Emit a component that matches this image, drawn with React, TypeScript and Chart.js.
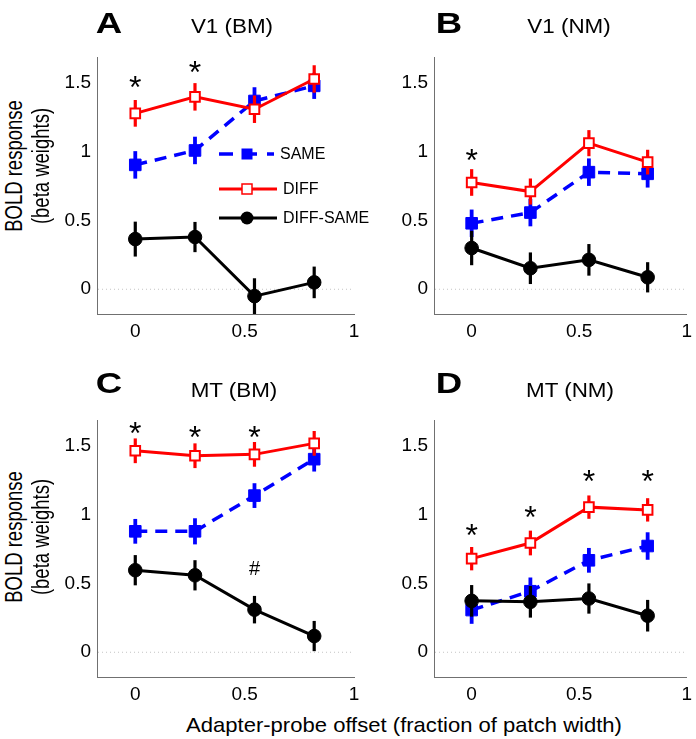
import React, { useEffect, useRef } from "react";
import { Chart, registerables } from "chart.js";

Chart.register(...registerables);

const FONT = "Arial, 'Liberation Sans', Helvetica, sans-serif";

// ---------- data ----------
const offsets = [0, 0.273, 0.545, 0.818];
const xTickValues = [0, 0.5, 1];
const xTickLabels = ["0", "0.5", "1"];
const yTickValues = [0, 0.5, 1, 1.5];
const yTickLabels = ["0", "0.5", "1", "1.5"];
const seriesNames = ["SAME", "DIFF", "DIFF-SAME"];

// A: V1 (BM)
const v1bmSame = [0.905, 1.01, 1.37, 1.48];
const v1bmSameErr = [0.1, 0.1, 0.1, 0.095];
const v1bmDiff = [1.28, 1.4, 1.31, 1.53];
const v1bmDiffErr = [0.097, 0.1, 0.1, 0.1];
const v1bmDS = [0.365, 0.38, -0.05, 0.05];
const v1bmDSErr = [0.127, 0.11, 0.13, 0.115];
const v1bmStarX = [0, 0.273];
const v1bmStarY = [1.506, 1.62];

// B: V1 (NM)
const v1nmSame = [0.48, 0.558, 0.852, 0.84];
const v1nmSameErr = [0.1, 0.1, 0.1, 0.1];
const v1nmDiff = [0.777, 0.711, 1.063, 0.925];
const v1nmDiffErr = [0.097, 0.095, 0.095, 0.09];
const v1nmDS = [0.3, 0.153, 0.214, 0.087];
const v1nmDSErr = [0.125, 0.115, 0.115, 0.11];
const v1nmStarX = [0];
const v1nmStarY = [0.978];

// C: MT (BM)
const mtbmSame = [0.88, 0.88, 1.14, 1.405];
const mtbmSameErr = [0.09, 0.095, 0.09, 0.09];
const mtbmDiff = [1.466, 1.43, 1.44, 1.52];
const mtbmDiffErr = [0.09, 0.09, 0.09, 0.09];
const mtbmDS = [0.597, 0.56, 0.31, 0.118];
const mtbmDSErr = [0.11, 0.11, 0.1, 0.11];
const mtbmStarX = [0, 0.273, 0.545];
const mtbmStarY = [1.635, 1.6, 1.6];
const mtbmHashX = [0.545];
const mtbmHashY = [0.616];

// D: MT (NM)
const mtnmSame = [0.307, 0.444, 0.669, 0.773];
const mtnmSameErr = [0.1, 0.1, 0.09, 0.1];
const mtnmDiff = [0.681, 0.795, 1.056, 1.036];
const mtnmDiffErr = [0.085, 0.09, 0.085, 0.085];
const mtnmDS = [0.374, 0.367, 0.391, 0.266];
const mtnmDSErr = [0.115, 0.115, 0.11, 0.115];
const mtnmStarX = [0, 0.273, 0.545, 0.818];
const mtnmStarY = [0.89, 1.02, 1.285, 1.285];

const X_MIN = -0.175;
const X_MAX = 1;
const Y_MIN = -0.18;
const Y_MAX = 1.69;

// ---------- layout ----------
const colLeft = [40, 380];
const colW = [336, 316];
const yAxisW = [57, 54];
const padRight = [22, 5];
const rowTop = [35, 398];
const CANVAS_H = 309;
const PAD_TOP = 22;
const X_AXIS_H = 30;

const RED = "#ff0000";
const BLUE = "#0000ff";
const BLACK = "#000000";
const AXIS = "#707070";

type PanelCfg = {
  letter: string;
  title: string;
  same: number[];
  sameErr: number[];
  diff: number[];
  diffErr: number[];
  ds: number[];
  dsErr: number[];
  starX: number[];
  starY: number[];
  hashX: number[];
  hashY: number[];
  legend: boolean;
  row: number;
  col: number;
  titleCx: number;
};

const panels: PanelCfg[] = [
  { letter: "A", title: "V1 (BM)", same: v1bmSame, sameErr: v1bmSameErr, diff: v1bmDiff, diffErr: v1bmDiffErr, ds: v1bmDS, dsErr: v1bmDSErr, starX: v1bmStarX, starY: v1bmStarY, hashX: [], hashY: [], legend: true, row: 0, col: 0, titleCx: 231.5 },
  { letter: "B", title: "V1 (NM)", same: v1nmSame, sameErr: v1nmSameErr, diff: v1nmDiff, diffErr: v1nmDiffErr, ds: v1nmDS, dsErr: v1nmDSErr, starX: v1nmStarX, starY: v1nmStarY, hashX: [], hashY: [], legend: false, row: 0, col: 1, titleCx: 568.5 },
  { letter: "C", title: "MT (BM)", same: mtbmSame, sameErr: mtbmSameErr, diff: mtbmDiff, diffErr: mtbmDiffErr, ds: mtbmDS, dsErr: mtbmDSErr, starX: mtbmStarX, starY: mtbmStarY, hashX: mtbmHashX, hashY: mtbmHashY, legend: false, row: 1, col: 0, titleCx: 233.5 },
  { letter: "D", title: "MT (NM)", same: mtnmSame, sameErr: mtnmSameErr, diff: mtnmDiff, diffErr: mtnmDiffErr, ds: mtnmDS, dsErr: mtnmDSErr, starX: mtnmStarX, starY: mtnmStarY, hashX: [], hashY: [], legend: false, row: 1, col: 1, titleCx: 570 },
];

function drawCenteredText(ctx: CanvasRenderingContext2D, text: string, px: number, py: number, size: number) {
  ctx.font = `${size}px ${FONT}`;
  ctx.textAlign = "center";
  ctx.textBaseline = "alphabetic";
  const m = ctx.measureText(text);
  const off = (m.actualBoundingBoxAscent - m.actualBoundingBoxDescent) / 2;
  ctx.fillStyle = "#000";
  ctx.fillText(text, px, py + off);
}

function Panel({ cfg }: { cfg: PanelCfg }) {
  const ref = useRef<HTMLCanvasElement>(null);
  const w = colW[cfg.col];
  const left = colLeft[cfg.col];
  const top = rowTop[cfg.row];

  useEffect(() => {
    const canvas = ref.current;
    if (!canvas) return;
    const errs = [cfg.dsErr, cfg.diffErr, cfg.sameErr];
    const errColors = [BLACK, RED, BLUE];
    const errWidths = [3.2, 3.2, 3.8];

    const figPlugin = {
      id: "fig",
      beforeDatasetsDraw(chart: any) {
        const { ctx, chartArea, scales } = chart;
        const y0 = scales.y.getPixelForValue(0);
        ctx.save();
        ctx.strokeStyle = "#c4c4c4";
        ctx.lineWidth = 1;
        ctx.setLineDash([1, 3]);
        ctx.beginPath();
        ctx.moveTo(chartArea.left + 1, y0);
        ctx.lineTo(chartArea.right, y0);
        ctx.stroke();
        ctx.restore();
      },
      beforeDatasetDraw(chart: any, args: any) {
        const { ctx, scales } = chart;
        const e = errs[args.index];
        const ds = chart.data.datasets[args.index];
        ctx.save();
        ctx.strokeStyle = errColors[args.index];
        ctx.lineWidth = errWidths[args.index];
        ctx.lineCap = "butt";
        ds.data.forEach((p: any, i: number) => {
          const px = scales.x.getPixelForValue(p.x);
          ctx.beginPath();
          ctx.moveTo(px, scales.y.getPixelForValue(p.y - e[i]));
          ctx.lineTo(px, scales.y.getPixelForValue(p.y + e[i]));
          ctx.stroke();
        });
        ctx.restore();
      },
      afterDatasetsDraw(chart: any) {
        const { ctx, scales, chartArea } = chart;
        ctx.save();
        cfg.starX.forEach((x, i) => {
          drawCenteredText(ctx, "*", scales.x.getPixelForValue(x), scales.y.getPixelForValue(cfg.starY[i]), 32);
        });
        cfg.hashX.forEach((x, i) => {
          drawCenteredText(ctx, "#", scales.x.getPixelForValue(x), scales.y.getPixelForValue(cfg.hashY[i]), 20);
        });
        if (cfg.legend) {
          const bx = chartArea.left;
          const by = chartArea.top;
          const rows = [
            { name: seriesNames[0], y: 97, color: BLUE, dash: [14, 10], lw: 3.5, marker: "sq", x1: 122, x2: 177, mx: 150, tx: 183 },
            { name: seriesNames[1], y: 132, color: RED, dash: [], lw: 3, marker: "open", x1: 122, x2: 180, mx: 150, tx: 186 },
            { name: seriesNames[2], y: 161, color: BLACK, dash: [], lw: 3, marker: "circle", x1: 122, x2: 180, mx: 150, tx: 186 },
          ];
          rows.forEach((r) => {
            const y = by + r.y;
            ctx.save();
            ctx.strokeStyle = r.color;
            ctx.lineWidth = r.lw;
            ctx.setLineDash(r.dash);
            ctx.beginPath();
            ctx.moveTo(bx + r.x1, y);
            ctx.lineTo(bx + r.x2, y);
            ctx.stroke();
            ctx.setLineDash([]);
            const mx = bx + r.mx;
            if (r.marker === "sq") {
              ctx.fillStyle = BLUE;
              ctx.fillRect(mx - 5.5, y - 5.5, 11, 11);
            } else if (r.marker === "open") {
              ctx.fillStyle = "#fff";
              ctx.fillRect(mx - 5, y - 5, 10, 10);
              ctx.lineWidth = 1.5;
              ctx.strokeRect(mx - 5, y - 5, 10, 10);
            } else {
              ctx.fillStyle = BLACK;
              ctx.beginPath();
              ctx.arc(mx, y, 6.5, 0, Math.PI * 2);
              ctx.fill();
            }
            ctx.restore();
            ctx.save();
            ctx.fillStyle = "#000";
            ctx.font = `16px ${FONT}`;
            ctx.textAlign = "left";
            ctx.textBaseline = "middle";
            ctx.fillText(r.name, bx + r.tx, y + 1);
            ctx.restore();
          });
        }
        ctx.restore();
      },
    };

    const mk = (vals: number[]) => offsets.map((x, i) => ({ x, y: vals[i] }));
    const tickFont = { family: FONT, size: 19 };

    const chart = new Chart(canvas, {
      type: "line",
      data: {
        datasets: [
          {
            label: seriesNames[2],
            data: mk(cfg.ds),
            borderColor: BLACK,
            backgroundColor: BLACK,
            borderWidth: 3,
            pointStyle: "circle",
            pointRadius: 6.8,
            pointBorderWidth: 1,
            pointBackgroundColor: BLACK,
            pointBorderColor: BLACK,
            tension: 0,
          },
          {
            label: seriesNames[1],
            data: mk(cfg.diff),
            borderColor: RED,
            backgroundColor: RED,
            borderWidth: 3,
            pointStyle: "rect",
            pointRadius: 6.8,
            pointBorderWidth: 2,
            pointBackgroundColor: "#ffffff",
            pointBorderColor: RED,
            tension: 0,
          },
          {
            label: seriesNames[0],
            data: mk(cfg.same),
            borderColor: BLUE,
            backgroundColor: BLUE,
            borderWidth: 3.5,
            borderDash: [12, 8],
            pointStyle: "rect",
            pointRadius: 8.2,
            pointBorderWidth: 1,
            pointBackgroundColor: BLUE,
            pointBorderColor: BLUE,
            tension: 0,
          },
        ],
      },
      options: {
        animation: false,
        responsive: false,
        devicePixelRatio: 1,
        events: [],
        layout: { padding: { top: PAD_TOP, right: padRight[cfg.col], left: 0, bottom: 0 } },
        plugins: { legend: { display: false }, tooltip: { enabled: false } },
        scales: {
          x: {
            type: "linear",
            min: X_MIN,
            max: X_MAX,
            afterBuildTicks: (axis: any) => {
              axis.ticks = xTickValues.map((v) => ({ value: v }));
            },
            afterFit: (s: any) => {
              s.height = X_AXIS_H;
              s.paddingLeft = 0;
              s.paddingRight = 0;
            },
            ticks: {
              callback: (v: any) => xTickLabels[xTickValues.indexOf(Number(v))],
              font: tickFont,
              color: "#000",
              padding: 6,
              maxRotation: 0,
              autoSkip: false,
            },
            grid: { display: false, drawTicks: false },
            border: { display: true, color: AXIS, width: 1 },
          },
          y: {
            type: "linear",
            min: Y_MIN,
            max: Y_MAX,
            afterBuildTicks: (axis: any) => {
              axis.ticks = yTickValues.map((v) => ({ value: v }));
            },
            afterFit: (s: any) => {
              s.width = yAxisW[cfg.col];
              s.paddingTop = 0;
              s.paddingBottom = 0;
            },
            ticks: {
              callback: (v: any) => yTickLabels[yTickValues.indexOf(Number(v))],
              font: tickFont,
              color: "#000",
              padding: 6,
              autoSkip: false,
            },
            grid: { display: false, drawTicks: false },
            border: { display: true, color: AXIS, width: 1 },
          },
        },
      } as any,
      plugins: [figPlugin as any],
    });
    return () => chart.destroy();
  }, []);

  return (
    <canvas
      ref={ref}
      width={w}
      height={CANVAS_H}
      style={{ position: "absolute", left, top, width: w, height: CANVAS_H }}
    />
  );
}

function HText({ text, cx, baseline, size, bold, sx }: { text: string; cx: number; baseline: number; size: number; bold?: boolean; sx: number }) {
  return (
    <div
      style={{
        position: "absolute",
        left: cx,
        top: baseline - 0.8465 * size,
        fontSize: size,
        lineHeight: `${size}px`,
        fontWeight: bold ? "bold" : "normal",
        fontFamily: FONT,
        whiteSpace: "nowrap",
        color: "#000",
        transform: `translateX(-50%) scaleX(${sx})`,
      }}
    >
      {text}
    </div>
  );
}

function VText({ text, cx, cy, size, sy }: { text: string; cx: number; cy: number; size: number; sy: number }) {
  return (
    <div
      style={{
        position: "absolute",
        left: cx,
        top: cy,
        fontSize: size,
        lineHeight: `${size}px`,
        fontFamily: FONT,
        whiteSpace: "nowrap",
        color: "#000",
        transform: `translate(-50%, -50%) rotate(-90deg) scaleY(${sy})`,
      }}
    >
      {text}
    </div>
  );
}

const letterCx = [108.5, 448.5];
const letterBaseline = [33, 393];
const titleBaseline = [32.5, 397];
const yLabelCy = [166, 537];

export default function App() {
  return (
    <div style={{ position: "absolute", left: 0, top: 0, width: 696, height: 739, background: "#fff", overflow: "hidden" }}>
      {panels.map((p) => (
        <Panel key={p.letter} cfg={p} />
      ))}
      {panels.map((p) => (
        <React.Fragment key={"t" + p.letter}>
          <HText text={p.letter} cx={letterCx[p.col]} baseline={letterBaseline[p.row]} size={30} bold sx={1.22} />
          <HText text={p.title} cx={p.titleCx} baseline={titleBaseline[p.row]} size={20} sx={1.12} />
        </React.Fragment>
      ))}
      {[0, 1].map((r) => (
        <React.Fragment key={"y" + r}>
          <VText text="BOLD response" cx={14.6} cy={yLabelCy[r]} size={18.5} sy={1.25} />
          <VText text="(beta weights)" cx={42} cy={yLabelCy[r]} size={18.5} sy={1.25} />
        </React.Fragment>
      ))}
      <HText text="Adapter-probe offset (fraction of patch width)" cx={403.5} baseline={731.5} size={21} sx={1.05} />
    </div>
  );
}
